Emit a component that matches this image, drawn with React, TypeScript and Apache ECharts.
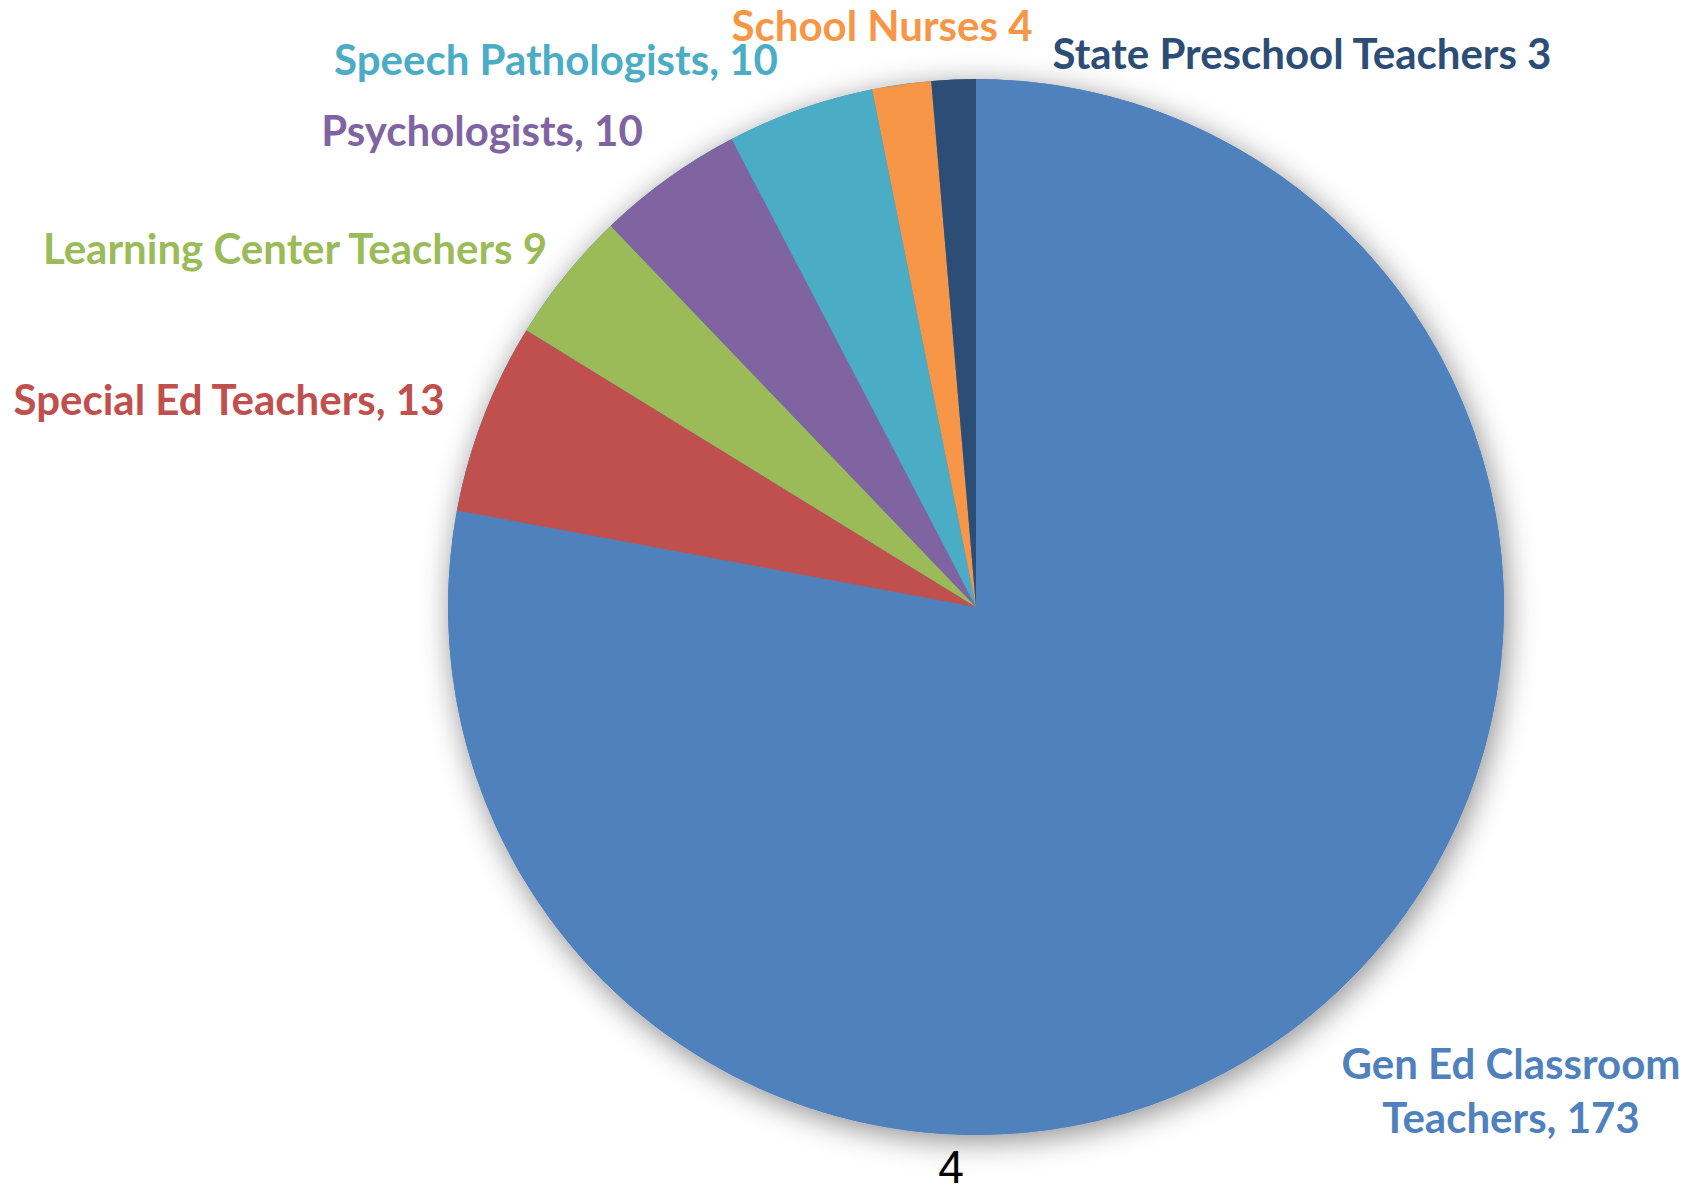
import React, { useEffect, useRef } from "react";
import * as echarts from "echarts";

const categories = [
  "Gen Ed Classroom Teachers",
  "Special Ed Teachers",
  "Learning Center Teachers",
  "Psychologists",
  "Speech Pathologists",
  "School Nurses",
  "State Preschool Teachers",
];
const values = [173, 13, 9, 10, 10, 4, 3];
const separators = [", ", ", ", " ", ", ", ", ", " ", " "];
const colors = ["#4F81BD", "#C0504D", "#9BBB59", "#8064A2", "#4BACC6", "#F79646", "#2C4D75"];
const pageNumber = "4";

// label anchor positions (text centre), styling only
const labelPos: [number, number][] = [
  [1511, 1090],
  [229, 399],
  [295, 248],
  [482, 130],
  [556, 59],
  [882, 25],
  [1302, 53],
];

export default function App() {
  const ref = useRef<HTMLDivElement>(null);
  useEffect(() => {
    document.body.style.margin = "0";
    const chart = echarts.init(ref.current!, null, { renderer: "svg" });
    const font = "Lato, 'Open Sans', sans-serif";
    chart.setOption({
      animation: false,
      backgroundColor: "#ffffff",
      series: [
        {
          type: "pie",
          silent: true,
          center: [976, 607],
          radius: [0, 528],
          label: { show: false },
          labelLine: { show: false },
          data: [
            {
              value: 1,
              itemStyle: {
                color: "#4F81BD",
                shadowBlur: 30,
                shadowColor: "rgba(0,0,0,0.45)",
                shadowOffsetX: 3,
                shadowOffsetY: 6,
              },
            },
          ],
          z: 1,
        },
        {
          type: "pie",
          center: [976, 607],
          radius: [0, 528],
          startAngle: 90,
          clockwise: true,
          z: 2,
          itemStyle: { borderWidth: 0 },
          labelLine: { show: false },
          label: {
            show: true,
            position: "outside",
            overflow: "none",
            fontFamily: font,
            fontWeight: "bold",
            fontSize: 42,
            lineHeight: 42,
            formatter: (p: any) => {
              const name = p.dataIndex === 0 ? p.name.replace("Classroom ", "Classroom\n") : p.name;
              return `${name}${separators[p.dataIndex]}${p.value}`;
            },
          },
          labelLayout: (params: any) => {
            const pos = labelPos[params.dataIndex];
            return { x: pos[0], y: pos[1], align: "center", verticalAlign: "middle", hideOverlap: false, moveOverlap: false };
          },
          data: categories.map((c, i) => ({
            name: c,
            value: values[i],
            itemStyle: { color: colors[i] },
            label: { color: colors[i], lineHeight: i === 0 ? 54 : 42, overflow: "none" },
          })),
        },
      ],
      graphic: [
        {
          type: "text",
          x: 951,
          y: 1167,
          style: {
            text: pageNumber,
            fontFamily: "'Liberation Sans', Arial, sans-serif",
            fontSize: 46,
            lineHeight: 34,
            align: "center",
            verticalAlign: "middle",
            fill: "#000",
          },
        },
      ],
    });
    return () => chart.dispose();
  }, []);
  return <div ref={ref} style={{ width: 1691, height: 1192 }} />;
}
